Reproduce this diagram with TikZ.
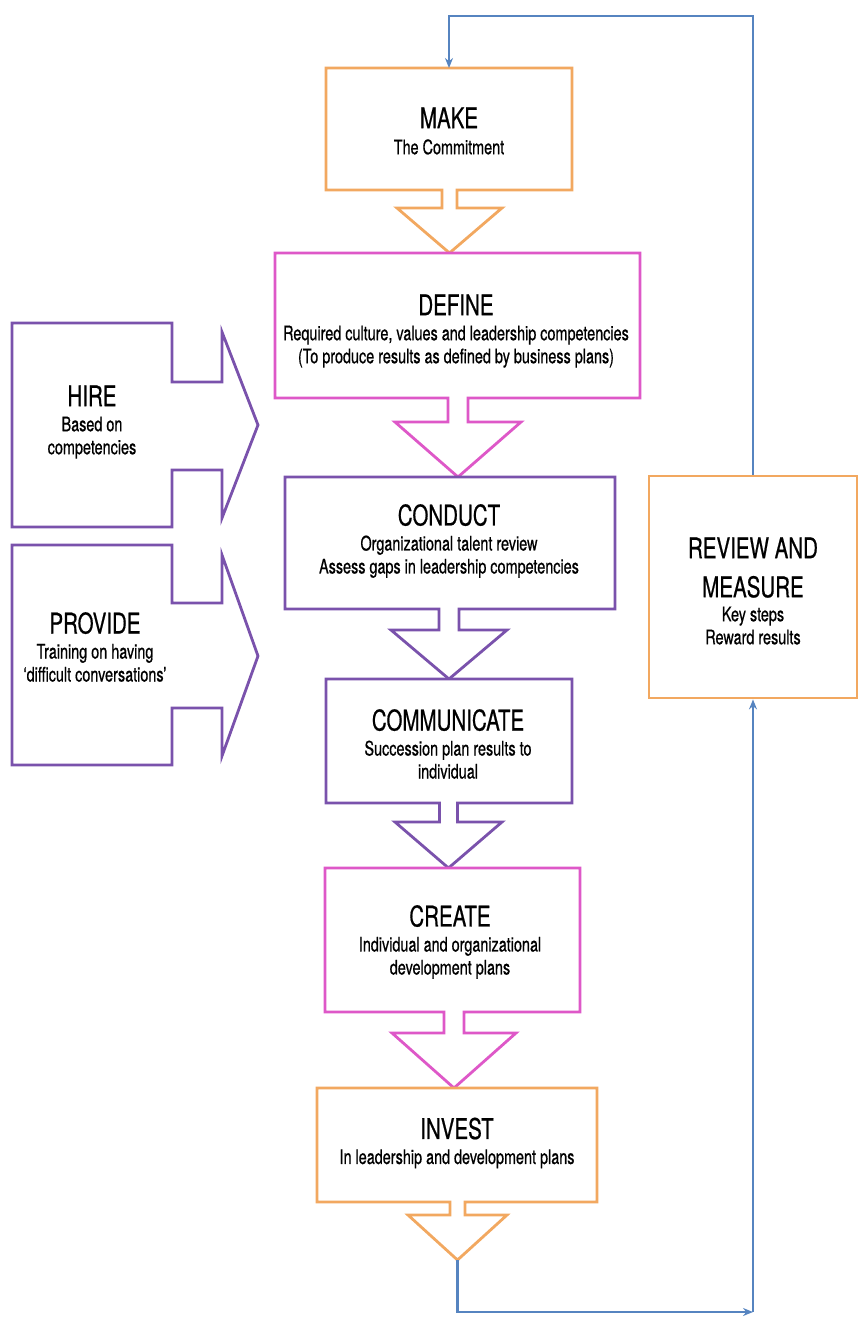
\documentclass[tikz,border=0pt]{standalone}
\usepackage{fontspec}
\setmainfont{TeX Gyre Heros}[FakeStretch=0.72,FakeBold=0.6]
\usetikzlibrary{arrows.meta}
\definecolor{boxorange}{RGB}{242,168,96}
\definecolor{boxpink}{RGB}{222,88,200}
\definecolor{boxpurple}{RGB}{122,82,172}
\definecolor{loopblue}{RGB}{86,132,192}
\newcommand{\headfont}{\fontsize{28.5}{30}\selectfont}
\begin{document}
\begin{tikzpicture}[x=1pt,y=-1pt,
  stepshape/.style={line width=2.8pt,line join=miter,fill=white},
  boxtext/.style={align=center,font=\fontsize{20}{23}\selectfont,inner sep=0pt},
  loopline/.style={line width=2.4pt,draw=loopblue,-{Stealth[length=10pt,width=8pt]}}]
\useasboundingbox (0,0) rectangle (859,1318);

\draw [stepshape,draw=boxorange] (326,68) -- (572,68) -- (572,190) -- (457,190) -- (457,208) -- (502,208) -- (449.5,253) -- (397,208) -- (442,208) -- (442,190) -- (326,190) -- cycle;
\draw [stepshape,draw=boxpink] (275,253) -- (640,253) -- (640,398) -- (468,398) -- (468,422) -- (521,422) -- (458,477) -- (395,422) -- (448,422) -- (448,398) -- (275,398) -- cycle;
\draw [stepshape,draw=boxpurple] (285,477) -- (615,477) -- (615,609) -- (459,609) -- (459,630) -- (507,630) -- (449,679) -- (391,630) -- (439,630) -- (439,609) -- (285,609) -- cycle;
\draw [stepshape,draw=boxpurple] (326,679) -- (572,679) -- (572,803) -- (457.5,803) -- (457.5,822) -- (502,822) -- (448.5,868) -- (395,822) -- (439.5,822) -- (439.5,803) -- (326,803) -- cycle;
\draw [stepshape,draw=boxpink] (325,868) -- (580,868) -- (580,1012) -- (464,1012) -- (464,1033) -- (516,1033) -- (454,1088) -- (392,1033) -- (444,1033) -- (444,1012) -- (325,1012) -- cycle;
\draw [stepshape,draw=boxorange] (317,1088) -- (597,1088) -- (597,1202) -- (465,1202) -- (465,1215) -- (507,1215) -- (457.5,1260) -- (408,1215) -- (450,1215) -- (450,1202) -- (317,1202) -- cycle;
\draw [stepshape,draw=boxpurple] (12,323) -- (172,323) -- (172,382) -- (222,382) -- (222,332) -- (258,425) -- (222,518) -- (222,470) -- (172,470) -- (172,527) -- (12,527) -- cycle;
\draw [stepshape,draw=boxpurple] (12,545) -- (172,545) -- (172,603) -- (222,603) -- (222,555) -- (258,656) -- (222,756) -- (222,708) -- (172,708) -- (172,765) -- (12,765) -- cycle;

\node [boxtext] (make) at (449,131) {{\headfont MAKE}\\[3pt] The Commitment};
\node [boxtext] (define) at (456,331) {{\headfont DEFINE}\\[2pt] Required culture, values and leadership competencies\\ (To produce results as defined by business plans)};
\node [boxtext] (conduct) at (449,541) {{\headfont CONDUCT}\\[2pt] Organizational talent review\\ Assess gaps in leadership competencies};
\node [boxtext] (communicate) at (448,744) {{\headfont COMMUNICATE}\\[2pt] Succession plan results to\\ individual};
\node [boxtext] (create) at (450,942) {{\headfont CREATE}\\[2pt] Individual and organizational\\ development plans};
\node [boxtext] (invest) at (457,1143) {{\headfont INVEST}\\[2pt] In leadership and development plans};
\node [boxtext] (hire) at (92,422) {{\headfont HIRE}\\[2pt] Based on\\ competencies};
\node [boxtext] (provide) at (95,647) {{\headfont PROVIDE}\\[2pt] Training on having\\ `difficult conversations'};
\node [boxtext,draw=boxorange,line width=2.8pt,minimum width=208pt,minimum height=222pt] (review) at (753,587) {};
\node [boxtext] (reviewtext) at (753,591) {{\headfont REVIEW AND}\\[16pt]{\headfont MEASURE}\\[1pt] Key steps\\ Reward results};

\coordinate (maketop) at (449,68);
\coordinate (looptop) at (753,16);
\coordinate (investtip) at (457.5,1260);
\coordinate (loopbottom) at (753,1312);
\draw [loopline] (review.north) |- (maketop |- looptop) -- (maketop);
\draw [loopline] (investtip) |- (loopbottom);
\draw [loopline] (loopbottom) -- (review.south);
\end{tikzpicture}
\end{document}
